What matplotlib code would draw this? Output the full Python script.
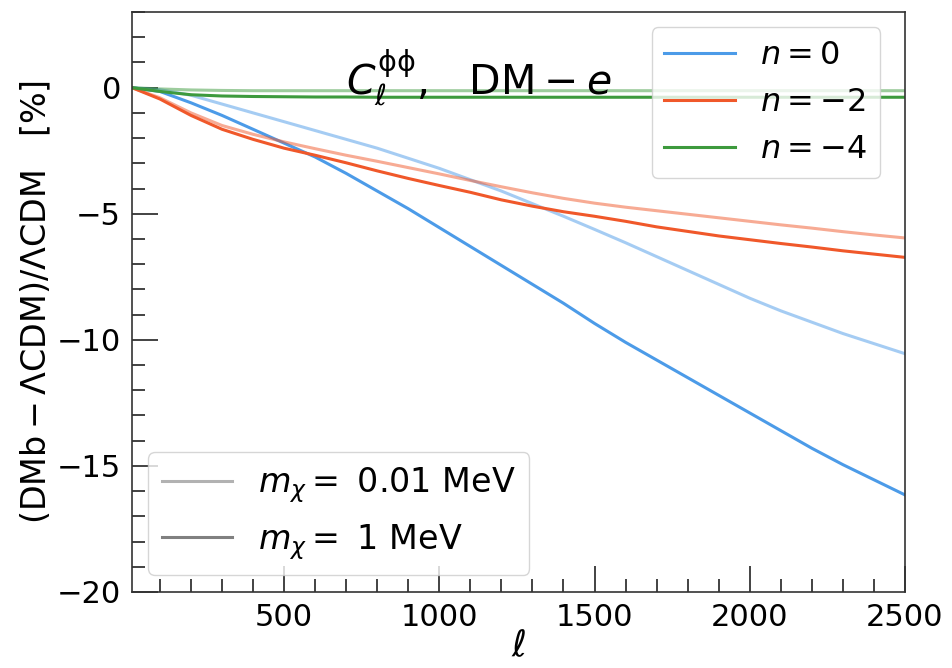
import numpy as np
import matplotlib
matplotlib.use('Agg')
import matplotlib.pyplot as plt
from matplotlib.lines import Line2D
from matplotlib.ticker import MultipleLocator

# multipoles
ell = [10, 100, 200, 300, 400, 500, 600, 700, 800, 900, 1000, 1100, 1200, 1300,
       1400, 1500, 1600, 1700, 1800, 1900, 2000, 2100, 2200, 2300, 2400, 2500]

# n = 0
n0_light = [0, -0.08, -0.3, -0.65, -1.0, -1.35, -1.7, -2.05, -2.4, -2.8, -3.2, -3.65,
            -4.1, -4.6, -5.1, -5.62, -6.15, -6.7, -7.25, -7.8, -8.35, -8.85, -9.3,
            -9.75, -10.15, -10.55]
n0_dark = [0, -0.15, -0.6, -1.1, -1.65, -2.2, -2.75, -3.4, -4.1, -4.8, -5.55, -6.3,
           -7.05, -7.8, -8.55, -9.35, -10.1, -10.8, -11.5, -12.2, -12.9, -13.6,
           -14.3, -14.95, -15.55, -16.15]
# n = -2
n2_light = [0, -0.4, -1.0, -1.5, -1.85, -2.15, -2.42, -2.68, -2.92, -3.17, -3.42,
            -3.68, -3.93, -4.17, -4.39, -4.58, -4.74, -4.88, -5.02, -5.16, -5.3,
            -5.44, -5.57, -5.71, -5.84, -5.96]
n2_dark = [0, -0.45, -1.1, -1.65, -2.05, -2.4, -2.68, -2.98, -3.3, -3.6, -3.88, -4.15,
           -4.45, -4.7, -4.92, -5.1, -5.3, -5.52, -5.7, -5.88, -6.03, -6.18, -6.32,
           -6.47, -6.6, -6.73]
# n = -4
n4_light = [0, -0.05, -0.09, -0.11, -0.12, -0.12, -0.12, -0.12, -0.12, -0.12, -0.12,
            -0.12, -0.12, -0.12, -0.12, -0.12, -0.12, -0.12, -0.12, -0.12, -0.12,
            -0.12, -0.12, -0.12, -0.12, -0.12]
n4_dark = [0, -0.15, -0.28, -0.33, -0.35, -0.36, -0.37, -0.37, -0.38, -0.38, -0.38,
           -0.38, -0.38, -0.38, -0.38, -0.38, -0.38, -0.38, -0.38, -0.38, -0.38,
           -0.38, -0.38, -0.38, -0.38, -0.38]

c_blue = '#4C9BE8'
c_orange = '#F0582A'
c_green = '#3D9A3D'

fig = plt.figure(figsize=(9.53, 6.68), dpi=100)
ax = fig.add_axes([0.1385, 0.1138, 0.8111, 0.8682])

lw = 2.2
ax.plot(ell, n0_light, color=c_blue, alpha=0.5, lw=lw)
ax.plot(ell, n0_dark, color=c_blue, lw=lw)
ax.plot(ell, n2_light, color=c_orange, alpha=0.5, lw=lw)
ax.plot(ell, n2_dark, color=c_orange, lw=lw)
ax.plot(ell, n4_light, color=c_green, alpha=0.5, lw=lw)
ax.plot(ell, n4_dark, color=c_green, lw=lw)

ax.set_xlim(10, 2500)
ax.set_ylim(-20, 3)
ax.xaxis.set_major_locator(MultipleLocator(500))
ax.xaxis.set_minor_locator(MultipleLocator(100))
ax.yaxis.set_major_locator(MultipleLocator(5))
ax.yaxis.set_minor_locator(MultipleLocator(1))
ax.tick_params(which='both', direction='in', labelsize=22, width=1.2, color='#222222')
ax.tick_params(which='major', length=19, pad=8)
ax.tick_params(which='minor', length=9.5)
for sp in ax.spines.values():
    sp.set_linewidth(1.2)
    sp.set_edgecolor('#333333')

ax.set_xlabel(r'$\ell$', fontsize=26, labelpad=-2)
ax.set_ylabel(r'$(\mathrm{DMb}-\Lambda\mathrm{CDM})/\Lambda\mathrm{CDM}$   [%]',
              fontsize=24, labelpad=2)

ax.text(0.448, 0.885, r'$C_\ell^{\mathrm{\phi\phi}}$,   $\mathrm{DM}-e$',
        transform=ax.transAxes, fontsize=29.5, ha='center', va='center')

h1 = [Line2D([], [], color=c_blue, lw=lw),
      Line2D([], [], color=c_orange, lw=lw),
      Line2D([], [], color=c_green, lw=lw)]
leg1 = ax.legend(h1, [r'$n=0$', r'$n=-2$', r'$n=-4$'], loc='upper right',
                 fontsize=23, bbox_to_anchor=(0.98, 0.99), handlelength=2.2,
                 borderaxespad=0.3)
ax.add_artist(leg1)

h2 = [Line2D([], [], color='gray', alpha=0.6, lw=lw),
      Line2D([], [], color='gray', lw=lw)]
ax.legend(h2, [r'$m_\chi=$ 0.01 MeV', r'$m_\chi=$ 1 MeV'], loc='lower left',
          fontsize=24, bbox_to_anchor=(0.008, 0.012), handlelength=2.1,
          borderaxespad=0.3)

fig.savefig('out.png', dpi=100)
